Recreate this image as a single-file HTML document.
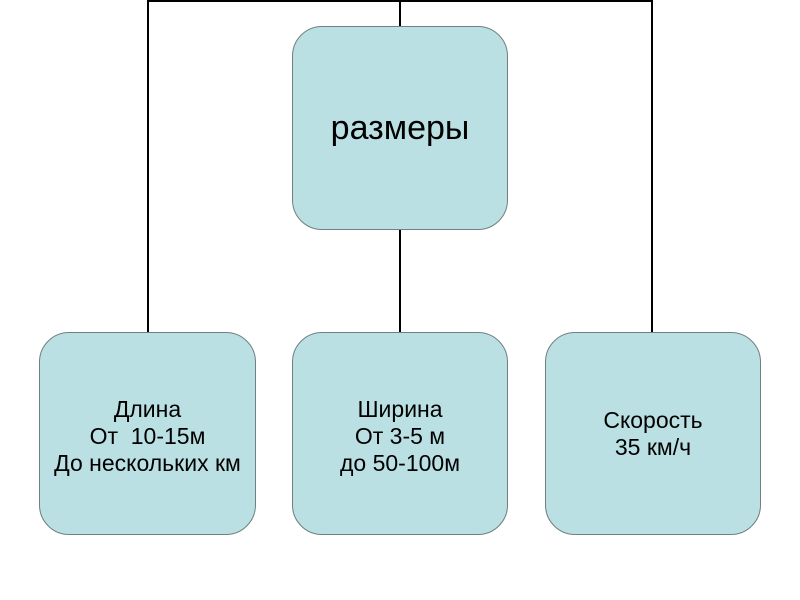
<!DOCTYPE html>
<html><head><meta charset="utf-8"><style>
body{margin:0;width:800px;height:600px;background:#fff;position:relative;overflow:hidden;font-family:"Liberation Sans",sans-serif}
.l{position:absolute;background:#000}
.b{position:absolute;box-sizing:border-box;background:#bbe0e3;border:1.5px solid #6f8080;border-radius:30px;display:flex;align-items:center;justify-content:center;text-align:center;color:#000;font-size:23px;line-height:27px}
</style></head><body>
<div class="l" style="left:147px;top:0;width:506px;height:2px"></div>
<div class="l" style="left:147px;top:0;width:2px;height:333px"></div>
<div class="l" style="left:651px;top:0;width:2px;height:333px"></div>
<div class="l" style="left:399px;top:0;width:2px;height:27px"></div>
<div class="l" style="left:399px;top:230px;width:2px;height:103px"></div>
<div class="b" style="left:292px;top:26px;width:216px;height:204px;font-size:34px">размеры</div>
<div class="b" style="left:39px;top:332px;width:217px;height:203px;padding-top:6px">Длина<br>От&nbsp; 10-15м<br>До нескольких км</div>
<div class="b" style="left:292px;top:332px;width:216px;height:203px;padding-top:6px">Ширина<br>От 3-5 м<br>до 50-100м</div>
<div class="b" style="left:545px;top:332px;width:216px;height:203px">Скорость<br>35 км/ч</div>
</body></html>
